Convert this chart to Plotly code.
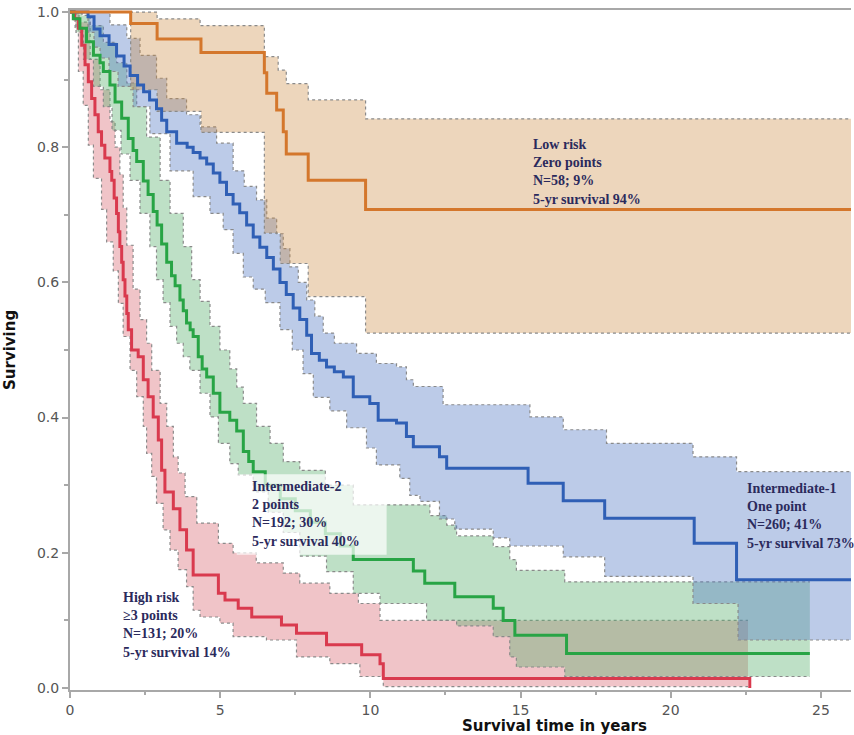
import plotly.graph_objects as go

# Kaplan-Meier curves: time in years, survival fraction
# low risk (zero points)
low_t = [0, 2.02, 2.9, 4.36, 6.47, 6.55, 6.88, 7.1, 7.2, 7.93, 9.84, 26.5]
low_s = [1.0, 0.983, 0.96, 0.94, 0.91, 0.88, 0.855, 0.823, 0.79, 0.751, 0.708, 0.708]
low_up_t = [0, 2.9, 4.33, 6.47, 6.93, 7.2, 7.93, 9.84, 26.5]
low_up_s = [1.0, 0.99, 0.98, 0.934, 0.914, 0.894, 0.87, 0.842, 0.842]
low_lo_t = [0, 2.02, 2.9, 4.36, 6.47, 7.0, 7.93, 9.84, 26.5]
low_lo_s = [1.0, 0.885, 0.853, 0.822, 0.673, 0.628, 0.579, 0.525, 0.525]

# intermediate-1 (one point)
int1_t = [0, 0.6, 0.8, 1.0, 1.3, 1.55, 1.8, 2.0, 2.25, 2.45, 2.65, 2.88, 3.05, 3.22, 3.55, 3.9,
          4.1, 4.33, 4.55, 4.77, 4.99, 5.21, 5.43, 5.65, 5.88, 6.1, 6.32, 6.55, 6.77, 6.99, 7.2,
          7.43, 7.65, 7.88, 8.04, 8.3, 8.54, 8.8, 9.1, 9.43, 9.98, 10.26, 10.87, 11.2, 11.43,
          12.3, 12.54, 15.25, 16.42, 17.8, 20.78, 22.19, 26.5]
int1_s = [1.0, 0.993, 0.975, 0.965, 0.952, 0.935, 0.92, 0.906, 0.892, 0.882, 0.87, 0.857, 0.84,
          0.823, 0.806, 0.8, 0.792, 0.784, 0.775, 0.762, 0.748, 0.73, 0.716, 0.703, 0.685, 0.667,
          0.652, 0.637, 0.62, 0.6, 0.582, 0.562, 0.545, 0.522, 0.495, 0.485, 0.475, 0.468, 0.46,
          0.431, 0.421, 0.396, 0.392, 0.372, 0.357, 0.342, 0.325, 0.303, 0.277, 0.251, 0.214,
          0.16, 0.16]
int1_up_t = [0, 1.33, 1.89, 2.33, 2.88, 3.22, 3.88, 4.33, 4.88, 5.43, 5.8, 6.21, 6.55, 6.88, 7.1,
             7.32, 7.6, 7.88, 8.15, 8.43, 8.8, 9.54, 10.2, 10.87, 11.2, 11.43, 12.42, 15.31,
             16.42, 17.86, 20.74, 22.19, 26.5]
int1_up_s = [1.0, 0.981, 0.961, 0.936, 0.902, 0.872, 0.848, 0.83, 0.806, 0.765, 0.742, 0.722,
             0.695, 0.672, 0.65, 0.623, 0.6, 0.574, 0.55, 0.525, 0.51, 0.495, 0.48, 0.475, 0.456,
             0.446, 0.419, 0.401, 0.382, 0.362, 0.342, 0.32, 0.32]
int1_lo_t = [0, 0.6, 0.8, 1.0, 1.3, 1.6, 2.1, 2.66, 3.33, 4.1, 4.66, 5.1, 5.43, 5.77, 6.1, 6.5,
             6.99, 7.4, 7.76, 8.1, 8.65, 9.21, 9.87, 10.2, 10.98, 11.31, 11.65, 12.3, 12.81,
             14.09, 14.64, 16.42, 17.8, 20.74, 22.24, 26.5]
int1_lo_s = [1.0, 0.97, 0.948, 0.932, 0.912, 0.89, 0.86, 0.82, 0.765, 0.727, 0.702, 0.678, 0.643,
             0.608, 0.59, 0.57, 0.53, 0.5, 0.465, 0.43, 0.41, 0.385, 0.355, 0.33, 0.31, 0.285,
             0.276, 0.25, 0.235, 0.222, 0.21, 0.194, 0.165, 0.125, 0.071, 0.071]

# intermediate-2 (2 points)
int2_t = [0, 0.11, 0.33, 0.55, 0.78, 1.0, 1.11, 1.33, 1.5, 1.72, 1.94, 2.1, 2.22, 2.44, 2.6,
          2.77, 2.9, 3.05, 3.22, 3.38, 3.5, 3.66, 3.77, 3.88, 4.0, 4.1, 4.27, 4.4, 4.55, 4.77,
          4.99, 5.32, 5.55, 5.77, 5.95, 6.1, 6.5, 7.0, 7.5, 8.0, 8.5, 9.0, 9.43, 11.43, 11.81,
          12.81, 14.09, 14.42, 14.81, 16.53, 24.63]
int2_s = [1.0, 0.99, 0.976, 0.956, 0.936, 0.925, 0.912, 0.892, 0.867, 0.843, 0.813, 0.795, 0.779,
          0.75, 0.73, 0.705, 0.685, 0.657, 0.63, 0.61, 0.595, 0.574, 0.558, 0.54, 0.53, 0.52,
          0.49, 0.472, 0.46, 0.436, 0.408, 0.396, 0.38, 0.35, 0.335, 0.32, 0.3, 0.28, 0.262,
          0.245, 0.228, 0.21, 0.19, 0.173, 0.155, 0.135, 0.118, 0.1, 0.078, 0.051, 0.051]
int2_up_t = [0, 0.4, 0.67, 1.11, 1.55, 1.89, 2.22, 2.55, 3.0, 3.33, 3.77, 4.05, 4.33, 4.66, 4.99,
             5.32, 5.55, 5.77, 6.21, 6.66, 7.1, 7.65, 8.5, 9.43, 11.98, 12.54, 12.87, 14.09,
             14.64, 14.86, 16.47, 24.63]
int2_up_s = [1.0, 0.995, 0.98, 0.955, 0.925, 0.895, 0.86, 0.815, 0.751, 0.702, 0.653, 0.604,
             0.572, 0.535, 0.5, 0.472, 0.445, 0.421, 0.387, 0.362, 0.335, 0.322, 0.3, 0.271,
             0.255, 0.241, 0.225, 0.209, 0.19, 0.174, 0.157, 0.157]
int2_lo_t = [0, 0.2, 0.45, 0.78, 1.11, 1.4, 1.7, 2.0, 2.33, 2.66, 2.88, 3.1, 3.33, 3.55, 3.77,
             3.99, 4.33, 4.66, 4.94, 5.32, 5.6, 6.1, 6.6, 7.1, 7.65, 8.54, 9.43, 10.32, 11.87,
             12.87, 14.09, 14.64, 14.86, 16.47, 24.63]
int2_lo_s = [1.0, 0.97, 0.93, 0.89, 0.86, 0.825, 0.79, 0.751, 0.702, 0.653, 0.604, 0.57, 0.535,
             0.51, 0.49, 0.47, 0.436, 0.401, 0.362, 0.332, 0.315, 0.29, 0.26, 0.23, 0.195, 0.172,
             0.14, 0.125, 0.10, 0.092, 0.076, 0.046, 0.031, 0.017, 0.017]

# high risk (>=3 points)
high_t = [0, 0.15, 0.28, 0.39, 0.5, 0.61, 0.72, 0.83, 0.94, 1.05, 1.16, 1.33, 1.39, 1.47, 1.55,
          1.61, 1.66, 1.72, 1.77, 1.83, 1.89, 1.94, 2.05, 2.27, 2.44, 2.6, 2.77, 2.94, 3.05,
          3.16, 3.44, 3.66, 3.88, 4.1, 4.94, 5.16, 5.6, 6.05, 7.04, 7.54, 8.54, 9.71, 10.32,
          10.43, 22.63]
high_s = [1.0, 0.99, 0.976, 0.951, 0.922, 0.897, 0.872, 0.848, 0.823, 0.803, 0.784, 0.764,
          0.751, 0.725, 0.702, 0.675, 0.653, 0.63, 0.604, 0.58, 0.554, 0.53, 0.5, 0.49, 0.456,
          0.431, 0.401, 0.367, 0.322, 0.29, 0.265, 0.234, 0.204, 0.167, 0.14, 0.13, 0.118,
          0.105, 0.093, 0.081, 0.064, 0.049, 0.036, 0.014, 0.0]
high_up_t = [0, 0.3, 0.67, 1.0, 1.33, 1.5, 1.66, 1.77, 1.89, 2.1, 2.33, 2.55, 2.72, 3.0, 3.22,
             3.44, 3.6, 3.83, 4.22, 4.94, 5.43, 6.2, 7.1, 7.65, 8.65, 9.6, 10.32, 22.57]
high_up_s = [1.0, 0.985, 0.93, 0.885, 0.838, 0.8, 0.76, 0.71, 0.655, 0.59, 0.545, 0.51, 0.47,
             0.421, 0.387, 0.342, 0.318, 0.283, 0.244, 0.214, 0.2, 0.185, 0.17, 0.155, 0.14,
             0.125, 0.1, 0.1]
high_lo_t = [0, 0.17, 0.28, 0.44, 0.61, 0.78, 1.05, 1.22, 1.44, 1.61, 1.77, 2.0, 2.22, 2.44,
             2.55, 2.72, 2.88, 3.1, 3.33, 3.6, 3.88, 4.1, 4.33, 4.99, 5.43, 6.54, 7.54, 8.65,
             9.65, 10.43, 22.57]
high_lo_s = [1.0, 0.976, 0.912, 0.862, 0.803, 0.754, 0.708, 0.66, 0.617, 0.569, 0.52, 0.47,
             0.431, 0.387, 0.347, 0.313, 0.273, 0.234, 0.204, 0.175, 0.15, 0.115, 0.105, 0.096,
             0.076, 0.071, 0.046, 0.036, 0.017, 0.002, 0.002]

low_label = 'Low risk<br>Zero points<br>N=58; 9%<br>5-yr survival 94%'
int1_label = 'Intermediate-1<br>One point<br>N=260; 41%<br>5-yr survival 73%'
int2_label = 'Intermediate-2<br>2 points<br>N=192; 30%<br>5-yr survival 40%'
high_label = 'High risk<br>≥3 points<br>N=131; 20%<br>5-yr survival 14%'

x_ticks = [0, 5, 10, 15, 20, 25]
y_ticks = [0.0, 0.2, 0.4, 0.6, 0.8, 1.0]

groups = [
	# name, curve, lower, upper, line colour, band colour
	('high', high_t, high_s, high_lo_t, high_lo_s, high_up_t, high_up_s, '#d93a4e', 'rgba(217,107,117,0.4)'),
	('int2', int2_t, int2_s, int2_lo_t, int2_lo_s, int2_up_t, int2_up_s, '#28a445', 'rgba(92,177,112,0.4)'),
	('int1', int1_t, int1_s, int1_lo_t, int1_lo_s, int1_up_t, int1_up_s, '#2f5fb5', 'rgba(87,125,197,0.4)'),
	('low', low_t, low_s, low_lo_t, low_lo_s, low_up_t, low_up_s, '#d4772c', 'rgba(204,138,64,0.35)'),
]

fig = go.Figure()

edge = dict(color='#8a8a8a', width=1.2, dash='dot', shape='hv')
for name, t, s, lo_t, lo_s, up_t, up_s, col, band in groups:
	fig.add_trace(go.Scatter(x=lo_t, y=lo_s, mode='lines', line=edge, hoverinfo='skip'))
	fig.add_trace(go.Scatter(x=up_t, y=up_s, mode='lines', line=edge, fill='tonexty',
							 fillcolor=band, hoverinfo='skip'))

# survival curves on top, orange last so it covers the others at S=1
for name, t, s, lo_t, lo_s, up_t, up_s, col, band in groups:
	fig.add_trace(go.Scatter(x=t, y=s, mode='lines', name=name,
							 line=dict(color=col, width=3, shape='hv')))

label_font = dict(family='Liberation Serif', size=14, color='#2b2a5c', weight='bold')
for text, x, y in [(low_label, 15.36, 0.763), (int1_label, 22.48, 0.255),
				   (int2_label, 6.0, 0.257), (high_label, 1.69, 0.093)]:
	fig.add_annotation(x=x, y=y, text=text, showarrow=False, xanchor='left', yanchor='middle',
					   align='left', font=label_font)

# washed out box behind the intermediate-2 label
fig.add_shape(type='rect', x0=5.55, x1=10.54, y0=0.197, y1=0.316, layer='above',
			  fillcolor='rgba(255,255,255,0.7)', line=dict(width=0))

title_font = dict(family='DejaVu Sans', size=15, color='#111111', weight='bold')
fig.add_annotation(xref='paper', yref='paper', x=0, y=0.5, xshift=-60, text='Surviving',
				   textangle=-90, showarrow=False, xanchor='center', yanchor='middle', font=title_font)
fig.add_annotation(xref='paper', yref='paper', x=0.62, y=0, yshift=-36, text='Survival time in years',
				   showarrow=False, xanchor='center', yanchor='middle', font=title_font)

axis_common = dict(showgrid=False, zeroline=False, showline=True, linecolor='#a8a8a8', linewidth=2,
				   ticks='outside', ticklen=6, tickwidth=1.5, tickcolor='#a8a8a8',
				   tickfont=dict(family='DejaVu Sans', size=14, color='#555555'))
fig.update_xaxes(range=[0, 26], tickvals=x_ticks, mirror=True,
				 minor=dict(dtick=2.5, ticks='outside', ticklen=3, tickcolor='#a8a8a8'),
				 **axis_common)
fig.update_yaxes(range=[-0.003, 1.003], tickvals=y_ticks, tickformat='.1f',
				 minor=dict(dtick=0.1, ticks='outside', ticklen=4, tickcolor='#a8a8a8'),
				 **axis_common)

fig.update_layout(width=854, height=735, showlegend=False,
				  margin=dict(l=70, r=3, t=10, b=45),
				  plot_bgcolor='white', paper_bgcolor='white')

# drop the default 8px body margin so the figure fills the window
fig.write_html('out.html', config={'displayModeBar': False},
			   post_script="document.body.style.margin='0';")
